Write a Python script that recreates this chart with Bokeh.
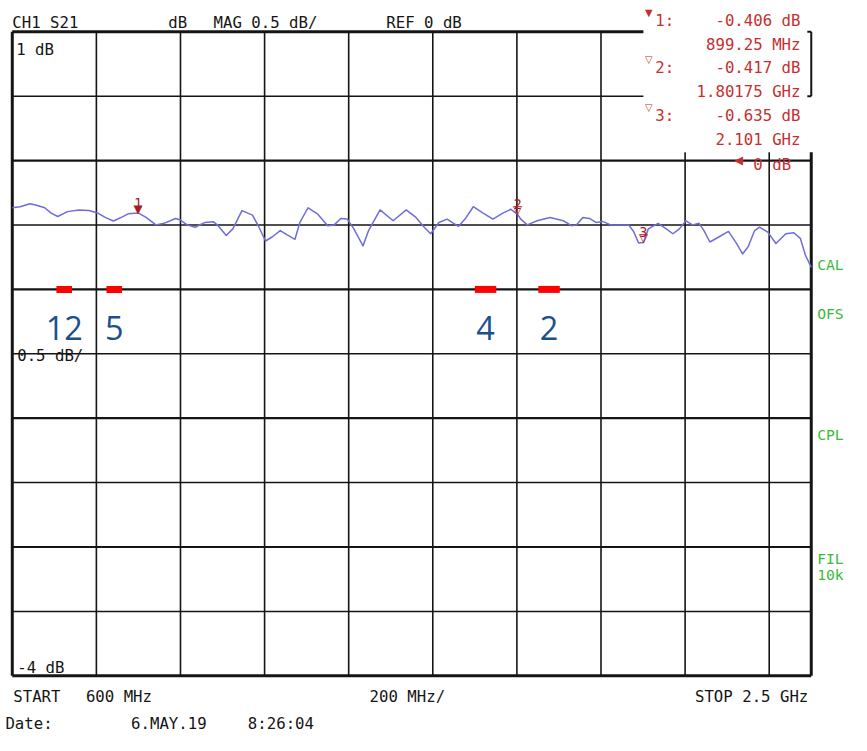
from bokeh.plotting import figure
from bokeh.models import Range1d
from bokeh.core.properties import value
from bokeh.embed import file_html
from bokeh.resources import INLINE

# ---------------- data ----------------
freq_mhz = [600, 618.7, 642.0, 657.7, 677.0, 692.7, 708.1, 731.4, 758.7, 782.1, 801.4, 821.0,
            840.4, 856.1, 875.4, 899.25, 918.1, 941.5, 961.1, 988.2, 999.8, 1015.5, 1034.9,
            1058.2, 1077.8, 1089.5, 1108.8, 1124.5, 1146.2, 1171.2, 1186.6, 1202.2, 1217.9,
            1237.2, 1252.9, 1272.2, 1283.9, 1303.3, 1326.6, 1350.0, 1365.6, 1381.2, 1396.7,
            1412.3, 1434.0, 1447.3, 1474.6, 1505.7, 1536.7, 1560.0, 1579.6, 1595.0, 1614.6,
            1634.0, 1645.7, 1661.3, 1676.7, 1696.3, 1719.7, 1743.0, 1766.4, 1785.8, 1801.75,
            1809.1, 1824.7, 1848.1, 1879.1, 1910.2, 1929.8, 1941.4, 1956.8, 1972.5, 1988.1,
            2003.5, 2023.1, 2065.8, 2077.5, 2089.2, 2101.0, 2112.5, 2135.9, 2155.2, 2170.9,
            2186.5, 2201.9, 2217.6, 2233.2, 2244.9, 2258.9, 2280.0, 2303.2, 2322.6, 2336.6,
            2349.9, 2365.3, 2377.0, 2396.6, 2416.0, 2439.4, 2458.7, 2474.4, 2486.0, 2500]
s21_db = [-0.366, -0.358, -0.335, -0.347, -0.366, -0.408, -0.434, -0.396, -0.383, -0.388, -0.404,
          -0.441, -0.469, -0.446, -0.413, -0.406, -0.441, -0.499, -0.487, -0.449, -0.461, -0.499,
          -0.517, -0.480, -0.474, -0.505, -0.581, -0.530, -0.388, -0.423, -0.517, -0.624, -0.593,
          -0.543, -0.575, -0.611, -0.480, -0.366, -0.416, -0.505, -0.499, -0.449, -0.454, -0.530,
          -0.662, -0.543, -0.383, -0.467, -0.383, -0.441, -0.517, -0.568, -0.480, -0.454, -0.480,
          -0.510, -0.454, -0.358, -0.408, -0.454, -0.408, -0.378, -0.417, -0.454, -0.499, -0.467,
          -0.441, -0.467, -0.505, -0.499, -0.441, -0.449, -0.480, -0.472, -0.499, -0.499, -0.550,
          -0.639, -0.635, -0.530, -0.487, -0.530, -0.568, -0.530, -0.467, -0.499, -0.487, -0.543,
          -0.632, -0.593, -0.550, -0.644, -0.725, -0.669, -0.543, -0.517, -0.555, -0.644, -0.568,
          -0.560, -0.606, -0.733, -0.829]

marker_ids = ["1", "2", "3"]
marker_freq_mhz = [899.25, 1801.75, 2101.0]
marker_db = [-0.406, -0.417, -0.635]
marker_symbols = ["\u25BC", "\u25BD", "\u25BD"]
marker_value_text = ["-0.406 dB", "-0.417 dB", "-0.635 dB"]
marker_freq_text = ["899.25 MHz", "1.80175 GHz", "2.101 GHz"]

band_names = ["12", "5", "4", "2"]
band_lo_mhz = [705, 824, 1700, 1851]
band_hi_mhz = [742, 861, 1751, 1902]
band_level_db = -1.0

f_start, f_stop, f_div = 600, 2500, 200
db_top, db_bottom, db_div = 1.0, -4.0, 0.5

# ---------------- layout helpers (reference pixels -> data) ----------------
W, H = 851, 735
REF_W, REF_H = 867, 751
S = W / REF_W
BOX_L, BOX_R, BOX_T, BOX_B = 12, 826, 32, 690


def fx(px):
    return f_start + (px - BOX_L) * (f_stop - f_start) / (BOX_R - BOX_L)


def fy(py):
    return db_top - (py - BOX_T) * (db_top - db_bottom) / (BOX_B - BOX_T)


def fs(n):
    return "%.1fpx" % (n * S)


p = figure(width=W, height=H,
           x_range=Range1d(fx(0), fx(REF_W)),
           y_range=Range1d(fy(REF_H), fy(0)),
           output_backend="svg", toolbar_location=None,
           x_axis_location=None, y_axis_location=None, min_border=0)
p.grid.visible = False
p.outline_line_color = None
p.background_fill_color = "white"
p.border_fill_color = "white"

INK = "#151515"
RED = "#c43030"
MRED = "#a81c1c"
GREEN = "#3cb93c"
MONO = value("DejaVu Sans Mono")

# info box region (blanked area top right)
box_f = fx(655)
box_db = fy(155)

# ---------------- grid ----------------
vx = [f_start + f_div * i for i in range(1, 10)]
v_top = [box_db if f > box_f else db_top for f in vx]
p.segment(x0=vx, y0=[db_bottom] * len(vx), x1=vx, y1=v_top, line_color=INK, line_width=1.6)

hy = [db_top - db_div * i for i in range(1, 10)]
h_right = [box_f if d > box_db else f_stop for d in hy]
h_w = [2.2 if abs(d - round(d)) < 1e-9 else 1.5 for d in hy]
p.segment(x0=[f_start] * len(hy), y0=hy, x1=h_right, y1=hy, line_color=INK, line_width=h_w)

# border
p.segment(x0=[f_start, f_start, f_start, f_stop],
          y0=[db_bottom, db_bottom, db_top, db_bottom],
          x1=[f_start, f_stop, box_f, f_stop],
          y1=[db_top, db_bottom, db_top, box_db],
          line_color=INK, line_width=3)
# bracket in info box
bx = fx(822)
p.segment(x0=[f_stop, bx, bx], y0=[db_top, db_top, db_top - db_div],
          x1=[f_stop, f_stop, f_stop], y1=[db_top - db_div, db_top, db_top - db_div],
          line_color=INK, line_width=2)

# ---------------- trace ----------------
p.line(freq_mhz, s21_db, line_color="#6e6edb", line_width=1.5, line_join="round")

# markers on trace
p.text(x=marker_freq_mhz, y=marker_db, text=marker_symbols, text_color=MRED,
       text_font=value("DejaVu Sans"), text_font_size=fs(12), text_align="center",
       text_baseline="middle", y_offset=-4)
p.text(x=marker_freq_mhz, y=marker_db, text=marker_ids, text_color=MRED,
       text_font=MONO, text_font_size=fs(14), text_align="center",
       text_baseline="alphabetic", y_offset=-10)

# band bars
band_c = [(a + b) / 2 for a, b in zip(band_lo_mhz, band_hi_mhz)]
band_w = [b - a for a, b in zip(band_lo_mhz, band_hi_mhz)]
p.rect(x=band_c, y=[band_level_db] * 4, width=band_w, height=7, height_units="screen",
       fill_color="#ff0000", line_color=None)
p.text(x=band_c, y=[band_level_db] * 4, text=band_names, text_color="#1d4f8c",
       text_font=value("Open Sans"), text_font_size=fs(33), text_align="center",
       text_baseline="alphabetic", y_offset=39)


# ---------------- texts ----------------
def txt(px, py, s, color=INK, size=16, align="left", font=MONO, baseline="alphabetic"):
    p.text(x=[fx(px)], y=[fy(py)], text=[s], text_color=color, text_font=font,
           text_font_size=fs(size), text_align=align, text_baseline=baseline)


txt(12, 22.5, "CH1 S21")
txt(171, 22.5, "dB")
txt(217, 22.5, "MAG 0.5 dB/")
txt(393, 22.5, "REF 0 dB")
txt(16, 50, "1 dB")
txt(17, 363, "0.5 dB/")
txt(17, 682, "-4 dB")
txt(13, 711.5, "START")
txt(87, 711.5, "600 MHz")
txt(376, 711.5, "200 MHz/")
txt(823, 711.5, "STOP 2.5 GHz", align="right")
txt(5, 739, "Date:")
txt(133, 739, "6.MAY.19")
txt(252, 739, "8:26:04")

# marker info (red)
info_rows = [20.5, 68.5, 118]
tri_rows = [12.5, 60.5, 109.5]
for i in range(3):
    txt(660.5, tri_rows[i], marker_symbols[i], color=RED, size=10,
        align="center", font=value("DejaVu Sans"), baseline="middle")
    txt(667, info_rows[i], marker_ids[i] + ":", color=RED)
    txt(815, info_rows[i], marker_value_text[i], color=RED, align="right")
    txt(815, info_rows[i] + 24.5, marker_freq_text[i], color=RED, align="right")
txt(752, 162.5, "\u25C0", color=RED, size=12, align="center",
    font=value("DejaVu Sans"), baseline="middle")
txt(767, 168, "0 dB", color=RED)

# right status (green)
for py, s in [(270, "CAL"), (320, "OFS"), (443, "CPL"), (570, "FIL"), (587, "10k")]:
    txt(832, py, s, color=GREEN, size=15)

open("out.html", "w").write(file_html(p, INLINE))
